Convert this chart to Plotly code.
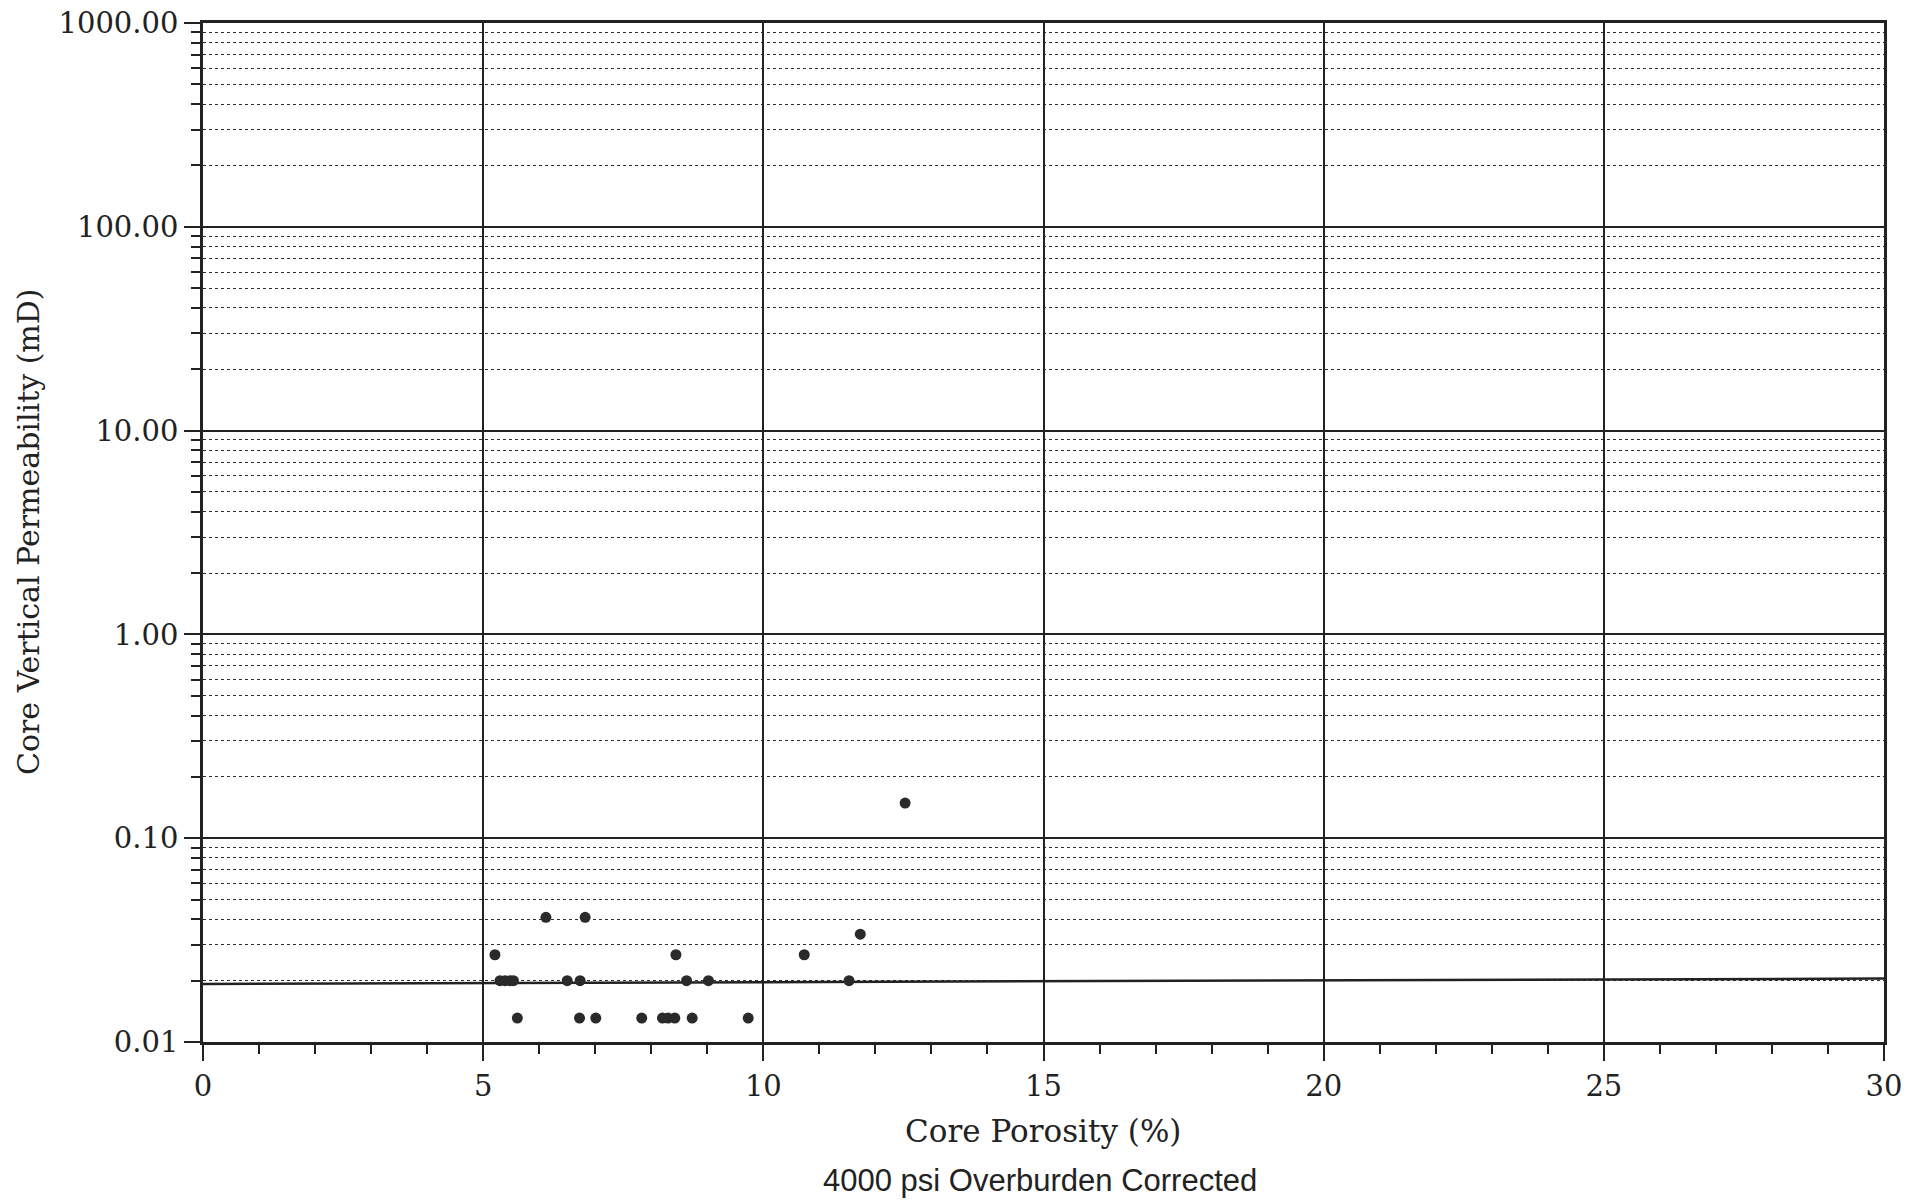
import plotly.graph_objects as go

# Data
porosity = [5.21, 6.12, 6.82, 5.30, 5.39, 5.48, 5.54, 6.50, 6.73, 8.44, 8.63, 9.02,
            5.61, 6.72, 7.01, 7.83, 8.20, 8.30, 8.42, 8.73, 9.73,
            10.73, 11.73, 11.53, 12.53]
permeability = [0.0268, 0.0409, 0.0409, 0.0200, 0.0200, 0.0200, 0.0200, 0.0200, 0.0200, 0.0268, 0.0200, 0.0200,
                0.0131, 0.0131, 0.0131, 0.0131, 0.0131, 0.0131, 0.0131, 0.0131, 0.0131,
                0.0268, 0.0338, 0.0200, 0.1488]

x_ticks = [0, 5, 10, 15, 20, 25, 30]
y_ticks = [0.01, 0.1, 1, 10, 100, 1000]
y_tick_labels = ["0.01", "0.10", "1.00", "10.00", "100.00", "1000.00"]
cutoff_line_x = [0, 30]
cutoff_line_y = [0.01927, 0.02047]

serif = "DejaVu Serif"
ink = "#222222"

# body margin is removed by post_script, so figure coords = page coords
W, H = 1918, 1203
L, T = 203, 23
R = W - 1884
B = H - 1042

fig = go.Figure()
fig.add_trace(go.Scatter(
    x=cutoff_line_x, y=cutoff_line_y, mode="lines",
    line=dict(color=ink, width=2.5), hoverinfo="skip", showlegend=False))
fig.add_trace(go.Scatter(
    x=porosity, y=permeability, mode="markers",
    marker=dict(size=11, color="#2a2a2a"), showlegend=False))

fig.update_layout(
    width=W, height=H,
    margin=dict(l=L, r=R, t=T, b=B, autoexpand=False),
    paper_bgcolor="white", plot_bgcolor="white",
    font=dict(family=serif, size=29, color=ink),
    xaxis=dict(
        range=[0, 30], tickvals=x_ticks, ticktext=[str(v) for v in x_ticks],
        showline=True, linewidth=2.5, linecolor=ink, mirror=True,
        ticks="outside", ticklen=16, tickwidth=2, tickcolor=ink,
        showgrid=True, gridcolor=ink, gridwidth=1.7, zeroline=False,
        minor=dict(dtick=1, ticks="outside", ticklen=9, tickwidth=1.5,
                   tickcolor=ink, showgrid=False),
        tickfont=dict(family=serif, size=29, color=ink),
        ticklabeloverflow="allow",
    ),
    yaxis=dict(
        type="log", range=[-2, 3], tickvals=y_ticks, ticktext=y_tick_labels,
        showline=True, linewidth=2.5, linecolor=ink, mirror=True,
        ticks="outside", ticklen=16, tickwidth=2, tickcolor=ink,
        showgrid=True, gridcolor=ink, gridwidth=2, zeroline=False,
        minor=dict(tickvals=[m * 10 ** e for e in range(-2, 3) for m in range(2, 10)],
                   ticks="outside", ticklen=9, tickwidth=1.5, tickcolor=ink,
                   showgrid=True, gridcolor="#2e2e2e", gridwidth=1.3, griddash="dot"),
        tickfont=dict(family=serif, size=29, color=ink),
        ticklabeloverflow="allow",
    ),
)

plot_h = H - T - B
plot_w = W - L - R
def py(page_y):
    return (1042 - page_y) / plot_h
def px(page_x):
    return (page_x - 203) / plot_w

fig.add_annotation(text="Core Porosity (%)", x=px(1043), y=py(1131),
                   xref="paper", yref="paper", xanchor="center", yanchor="middle",
                   showarrow=False, font=dict(family=serif, size=31, color=ink))
fig.add_annotation(text="4000 psi Overburden Corrected", x=px(1040), y=py(1180),
                   xref="paper", yref="paper", xanchor="center", yanchor="middle",
                   showarrow=False, font=dict(family="Liberation Sans", size=31, color=ink))
fig.add_annotation(text="Core Vertical Permeability (mD)", x=px(28), y=py(532),
                   xref="paper", yref="paper", xanchor="center", yanchor="middle",
                   textangle=-90, showarrow=False, font=dict(family=serif, size=30, color=ink))

fig.write_html(
    "out.html",
    config={"displayModeBar": False},
    post_script="document.body.style.margin='0px';document.body.style.overflow='hidden';",
)
